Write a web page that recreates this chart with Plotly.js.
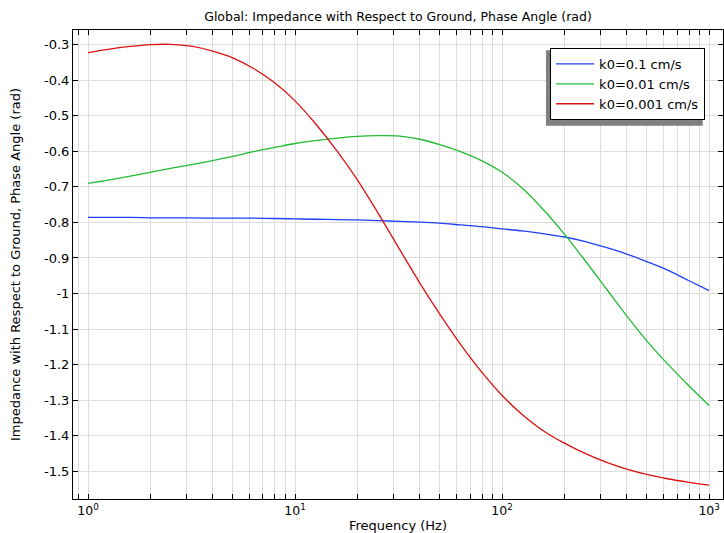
<!DOCTYPE html>
<html>
<head>
<meta charset="utf-8">
<script src="https://cdn.plot.ly/plotly-3.0.1.min.js"></script>
<style>html,body{margin:0;padding:0;background:#fff;}#chart{width:724px;height:533px;}</style>
</head>
<body>
<div id="chart"></div>
<script>
const freq = [1, 1.25, 1.6, 2, 2.5, 3.2, 4, 5, 6.3, 8, 10, 12.5, 16, 20, 25, 32, 40, 50, 63, 80, 100, 125, 160, 200, 250, 320, 400, 500, 630, 800, 1000];
const k0_01 = [-0.786, -0.786, -0.786, -0.787, -0.787, -0.787, -0.788, -0.788, -0.788, -0.789, -0.790, -0.791, -0.792, -0.793, -0.795, -0.797, -0.799, -0.802, -0.807, -0.812, -0.818, -0.824, -0.832, -0.841, -0.853, -0.871, -0.889, -0.910, -0.934, -0.964, -0.992];
const k0_001 = [-0.690, -0.681, -0.670, -0.659, -0.648, -0.637, -0.626, -0.614, -0.601, -0.589, -0.578, -0.570, -0.563, -0.558, -0.556, -0.557, -0.566, -0.581, -0.601, -0.627, -0.659, -0.703, -0.767, -0.833, -0.905, -0.988, -1.063, -1.133, -1.198, -1.260, -1.315];
const k0_0001 = [-0.3225, -0.313, -0.305, -0.300, -0.299, -0.305, -0.318, -0.337, -0.367, -0.408, -0.458, -0.521, -0.600, -0.680, -0.771, -0.876, -0.970, -1.058, -1.143, -1.222, -1.287, -1.340, -1.388, -1.421, -1.449, -1.475, -1.494, -1.509, -1.521, -1.531, -1.539];
const seriesNames = ['k0=0.1 cm/s', 'k0=0.01 cm/s', 'k0=0.001 cm/s'];
const seriesColors = ['#1f3fff', '#22bb33', '#dd1111'];

const xTickVals = [0.9, 1, 2, 3, 4, 5, 6, 7, 8, 9, 10, 20, 30, 40, 50, 60, 70, 80, 90, 100, 200, 300, 400, 500, 600, 700, 800, 900, 1000];
const xTickText = xTickVals.map(v => {
  const e = Math.log10(v);
  return Math.abs(e - Math.round(e)) < 1e-9 ? '10<sup>' + Math.round(e) + '</sup>' : '';
});
const yTickVals = [-0.3, -0.4, -0.5, -0.6, -0.7, -0.8, -0.9, -1.0, -1.1, -1.2, -1.3, -1.4, -1.5];
const yTickText = ['-0.3', '-0.4', '-0.5', '-0.6', '-0.7', '-0.8', '-0.9', '-1', '-1.1', '-1.2', '-1.3', '-1.4', '-1.5'];

const ys = [k0_01, k0_001, k0_0001];
const traces = ys.map((y, i) => ({
  x: freq, y: y, type: 'scatter', mode: 'lines', name: seriesNames[i],
  line: {color: seriesColors[i], width: 1.3, shape: 'spline', smoothing: 1}
}));

const fam = 'DejaVu Sans, sans-serif';
const layout = {
  width: 724, height: 533,
  margin: {l: 73, r: 1, t: 30, b: 34},
  paper_bgcolor: '#fff', plot_bgcolor: '#fff',
  font: {family: fam, size: 12, color: '#000'},
  title: {text: 'Global: Impedance with Respect to Ground, Phase Angle (rad)', font: {family: fam, size: 12.5, color: '#000'}, x: 0.5, xref: 'paper', xanchor: 'center', y: 1, yref: 'paper', yanchor: 'bottom', pad: {b: 9}},
  xaxis: {
    type: 'log', range: [-0.0725, 3.067],
    tickmode: 'array', tickvals: xTickVals, ticktext: xTickText,
    ticks: 'inside', ticklen: 5, tickcolor: '#000', tickwidth: 1,
    showgrid: true, gridcolor: '#dddddd', gridwidth: 1,
    showline: true, linecolor: '#000', linewidth: 1, mirror: 'allticks',
    zeroline: false, tickfont: {family: fam, size: 12.5, color: '#000'},
    title: {text: 'Frequency (Hz)', font: {family: fam, size: 13, color: '#000'}, standoff: 4}
  },
  yaxis: {
    range: [-1.578, -0.2587],
    tickmode: 'array', tickvals: yTickVals, ticktext: yTickText,
    ticks: 'inside', ticklen: 5, tickcolor: '#000', tickwidth: 1,
    showgrid: true, gridcolor: '#dddddd', gridwidth: 1,
    showline: true, linecolor: '#000', linewidth: 1, mirror: 'allticks',
    zeroline: false, tickfont: {family: fam, size: 13, color: '#000'},
    title: {text: 'Impedance with Respect to Ground, Phase Angle (rad)', font: {family: fam, size: 13, color: '#000'}, standoff: 20}
  },
  showlegend: true,
  legend: {
    x: 0.734, y: 0.9616, xanchor: 'left', yanchor: 'top',
    bgcolor: '#fff', bordercolor: '#000', borderwidth: 1,
    font: {family: fam, size: 13, color: '#000'},
    itemwidth: 38, tracegroupgap: 0
  },
  shapes: [{
    type: 'rect', xref: 'paper', yref: 'paper', layer: 'above',
    x0: 0.7277, x1: 0.9688, y0: 0.796, y1: 0.957,
    fillcolor: '#808080', line: {width: 0}
  }]
};

Plotly.newPlot('chart', traces, layout, {displayModeBar: false, staticPlot: true});
</script>
</body>
</html>
